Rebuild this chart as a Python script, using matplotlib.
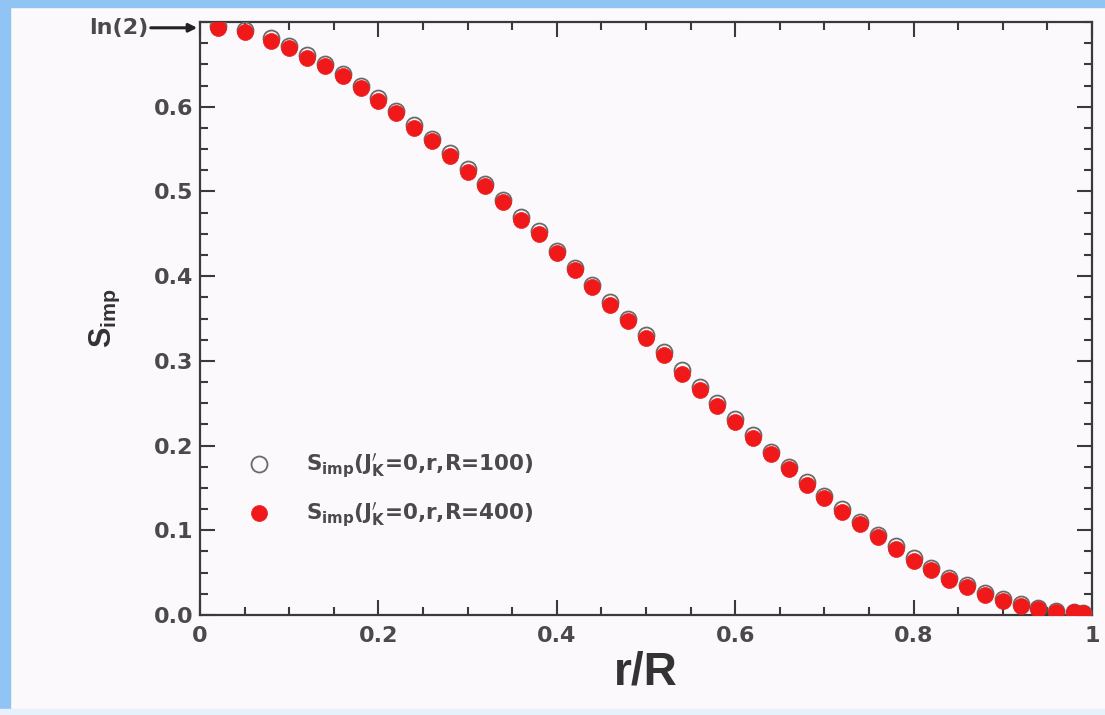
import numpy as np
import matplotlib
matplotlib.use('Agg')
import matplotlib.pyplot as plt
from matplotlib.patches import Rectangle
from matplotlib.ticker import MultipleLocator, FixedLocator

# r/R positions of the points
r_over_R = [0.02, 0.05, 0.08, 0.10, 0.12, 0.14, 0.16, 0.18, 0.20, 0.22,
            0.24, 0.26, 0.28, 0.30, 0.32, 0.34, 0.36, 0.38, 0.40, 0.42,
            0.44, 0.46, 0.48, 0.50, 0.52, 0.54, 0.56, 0.58, 0.60, 0.62,
            0.64, 0.66, 0.68, 0.70, 0.72, 0.74, 0.76, 0.78, 0.80, 0.82,
            0.84, 0.86, 0.88, 0.90, 0.92, 0.94, 0.96, 0.98, 0.99]

# S_imp, R=100 (open circles)
s_R100 = [0.695, 0.690, 0.681, 0.672, 0.661, 0.651, 0.639, 0.625, 0.610, 0.595,
          0.578, 0.562, 0.545, 0.527, 0.509, 0.490, 0.470, 0.453, 0.430, 0.410,
          0.390, 0.369, 0.350, 0.330, 0.310, 0.289, 0.269, 0.250, 0.231, 0.212,
          0.193, 0.175, 0.157, 0.141, 0.125, 0.110, 0.095, 0.081, 0.067, 0.055,
          0.044, 0.035, 0.026, 0.019, 0.013, 0.008, 0.005, 0.003, 0.002]

# S_imp, R=400 (filled red)
s_R400 = [0.693, 0.688, 0.678, 0.669, 0.658, 0.648, 0.636, 0.622, 0.607, 0.592,
          0.575, 0.559, 0.542, 0.523, 0.506, 0.487, 0.466, 0.450, 0.427, 0.407,
          0.387, 0.366, 0.347, 0.327, 0.307, 0.285, 0.266, 0.247, 0.228, 0.209,
          0.190, 0.172, 0.154, 0.138, 0.122, 0.107, 0.092, 0.078, 0.064, 0.053,
          0.041, 0.033, 0.024, 0.017, 0.011, 0.007, 0.004, 0.003, 0.002]

xticks = [0, 0.2, 0.4, 0.6, 0.8, 1.0]
xtick_labels = ['0', '0.2', '0.4', '0.6', '0.8', '1']
yticks = [0.0, 0.1, 0.2, 0.3, 0.4, 0.5, 0.6]
ytick_labels = ['0.0', '0.1', '0.2', '0.3', '0.4', '0.5', '0.6']

bg = '#fcf9fc'
ink = '#3a3a3a'
txt = '#4a4a4a'

fig = plt.figure(figsize=(11.05, 7.15), dpi=100, facecolor=bg)
# light blue frame of the slide
fig.patches.append(Rectangle((0, 0), 10 / 1105, 1, transform=fig.transFigure,
                             color='#8fc4f4', zorder=0))
fig.patches.append(Rectangle((0, 1 - 7 / 715), 1, 7 / 715, transform=fig.transFigure,
                             color='#8fc4f4', zorder=0))
fig.patches.append(Rectangle((0, 0), 1, 6 / 715, transform=fig.transFigure,
                             color='#e6f1fb', zorder=0))

ax = fig.add_axes([200 / 1105, 1 - 615 / 715, 892 / 1105, 593 / 715])
ax.set_facecolor(bg)

ax.plot(r_over_R, s_R100, 'o', ms=11.5, mfc='none', mec='#6a6a6a', mew=1.3,
        label=r"S$_\mathregular{imp}$(J$^{\prime}_\mathregular{K}$=0,r,R=100)", zorder=3)
ax.plot(r_over_R, s_R400, 'o', ms=11.5, mfc='#f01818', mec='#e82020', mew=0.5,
        label=r"S$_\mathregular{imp}$(J$^{\prime}_\mathregular{K}$=0,r,R=400)", zorder=4)

ax.set_xlim(0, 1)
ax.set_ylim(0, 0.70)

ax.xaxis.set_major_locator(FixedLocator(xticks))
ax.set_xticklabels(xtick_labels)
ax.xaxis.set_minor_locator(MultipleLocator(0.05))
ax.yaxis.set_major_locator(FixedLocator(yticks))
ax.set_yticklabels(ytick_labels)
ax.yaxis.set_minor_locator(MultipleLocator(0.025))

ax.tick_params(which='both', direction='in', top=True, right=True, color=ink,
               width=1.5)
ax.tick_params(which='major', length=11)
ax.tick_params(which='minor', length=5.5)
ax.tick_params(axis='x', pad=8)
ax.tick_params(axis='y', pad=5)
for lab in ax.get_xticklabels() + ax.get_yticklabels():
    lab.set_fontfamily('DejaVu Sans')
    lab.set_fontweight('bold')
    lab.set_fontsize(16)
    lab.set_color(txt)
for sp in ax.spines.values():
    sp.set_linewidth(1.6)
    sp.set_color(ink)

# ln(2) marker on the y axis
ax.annotate('ln(2)', xy=(0, np.log(2)), xycoords='data',
            xytext=(-52, 0), textcoords='offset pixels',
            ha='right', va='center', fontsize=16, fontweight='bold',
            family='DejaVu Sans', color=txt, annotation_clip=False,
            arrowprops=dict(arrowstyle='-|>', color='#222222', lw=2.2,
                            mutation_scale=12, shrinkA=0, shrinkB=2))

ax.set_xlabel('r/R', fontsize=33, fontweight='bold', family='Liberation Sans',
              color='#333333', labelpad=3)
ax.set_ylabel(r'$\mathregular{S_{imp}}$', fontsize=22, fontweight='bold',
              family='Liberation Sans', color='#333333')
ax.yaxis.set_label_coords(-0.088, 0.5)

leg = ax.legend(loc='center left', bbox_to_anchor=(0.02, 0.21), frameon=False,
                labelspacing=0.95, handletextpad=1.2, markerscale=1.0,
                prop={'family': 'DejaVu Sans', 'weight': 'bold', 'size': 15.5})
for t in leg.get_texts():
    t.set_color(txt)

fig.savefig('out.png', dpi=100, facecolor=bg)
